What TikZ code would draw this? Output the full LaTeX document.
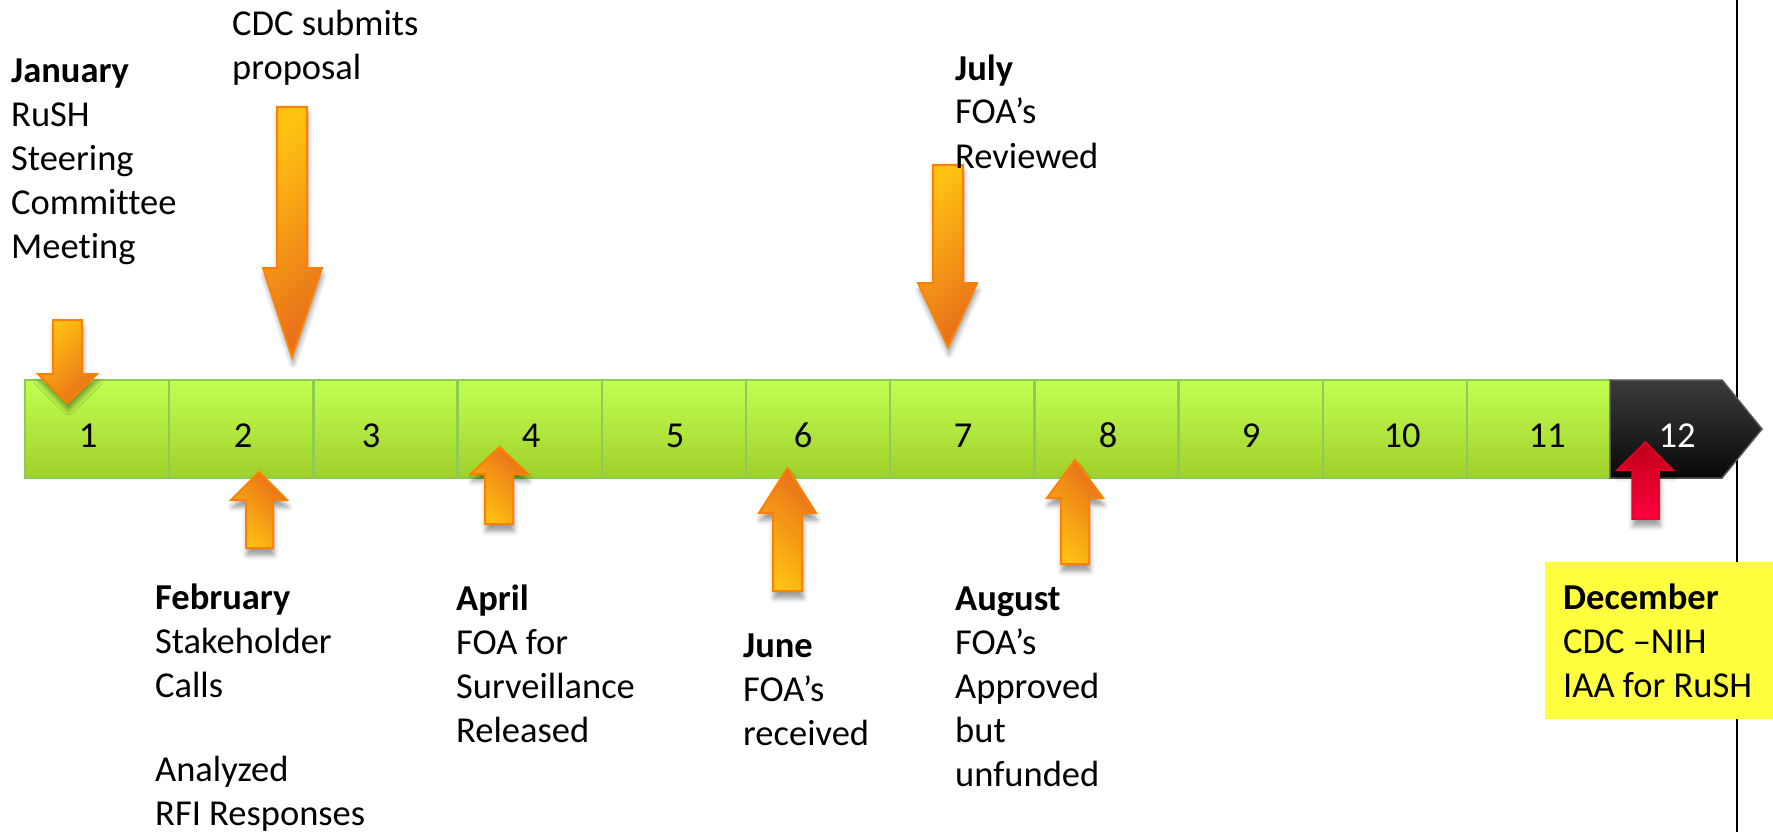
\documentclass[tikz,border=0pt]{standalone}
\usepackage{fontspec}
\setmainfont{Carlito}[Ligatures=NoCommon]
\usetikzlibrary{shadows.blur}
\definecolor{gTop}{RGB}{194,255,82}
\definecolor{gBot}{RGB}{160,208,42}
\definecolor{gEdge}{RGB}{140,204,84}
\definecolor{oYel}{RGB}{255,194,18}
\definecolor{oOra}{RGB}{232,112,26}
\definecolor{oEdge}{RGB}{255,128,0}
\definecolor{rTop}{RGB}{190,0,20}
\definecolor{rBot}{RGB}{255,0,64}
\definecolor{rEdge}{RGB}{230,0,40}
\definecolor{kTop}{RGB}{60,60,60}
\definecolor{kBot}{RGB}{8,8,8}
\definecolor{kEdge}{RGB}{85,85,85}
\definecolor{hiYel}{RGB}{255,255,64}
\begin{document}
\begin{tikzpicture}[x=1pt,y=-1pt,
  seg/.style={draw=gEdge, line width=2.5pt, top color=gTop, bottom color=gBot,
    minimum width=144.2pt, minimum height=98pt, inner sep=0pt, outer sep=0pt},
  num/.style={font=\fontsize{36.5}{40}\selectfont, anchor=base, inner sep=0pt},
  txt/.style={font=\fontsize{36.5}{44}\selectfont, align=left, anchor=base west, inner sep=0pt},
  arrsh/.style={blur shadow={shadow xshift=1pt, shadow yshift=-7pt, shadow blur radius=5pt, shadow opacity=40}},
  downarr/.style={draw=oEdge, line width=2pt, top color=oYel, bottom color=oOra, shading angle=45, arrsh},
  uparr/.style={draw=oEdge, line width=2pt, top color=oOra, bottom color=oYel, shading angle=-45, arrsh},
  redarr/.style={draw=rEdge, line width=1.5pt, top color=rTop, bottom color=rBot, arrsh},
  blackseg/.style={draw=kEdge, line width=1.5pt, top color=kTop, bottom color=kBot},
  vline/.style={line width=2.2pt, black}
]
\useasboundingbox (0,0) rectangle (1773,832);
% vertical line
\coordinate (vtop) at (1737,0);
\coordinate (vbot) at (1737,832);
\draw[vline] (vtop) -- (vbot);
% yellow box
\node[fill=hiYel, anchor=north west, minimum width=228pt, minimum height=157pt, inner sep=0pt] (ybox) at (1545,562) {};
% green segments
\foreach \i in {1,...,11}
  \node[seg] (s\i) at ({25+144.2*(\i-0.5)},429) {};
% black final segment
\draw[blackseg] (1610,380) -- (1722,380) -- (1762,429) -- (1722,478) -- (1610,478) -- cycle;
% numbers
\foreach \i/\x in {1/88,2/243,3/371,4/531,5/675,6/803,7/963,8/1108,9/1251,10/1402,11/1547}
  \node[num] (n\i) at (\x,447) {\i};
\node[num, text=white] (n12) at (1677,447) {12};
% down arrows
\draw[downarr] (53,320) -- (82,320) -- (82,374) -- (97,374) -- (67.5,403) -- (38,374) -- (53,374) -- cycle;
\draw[downarr] (277,107) -- (307,107) -- (307,268) -- (322,268) -- (292,357) -- (263,268) -- (277,268) -- cycle;
\draw[downarr] (933,165) -- (963,165) -- (963,283) -- (977,283) -- (948,347) -- (918,283) -- (933,283) -- cycle;
% up arrows
\draw[uparr] (246,548) -- (273,548) -- (273,500) -- (287,500) -- (259,472) -- (231,500) -- (246,500) -- cycle;
\draw[uparr] (485,524) -- (513,524) -- (513,474) -- (528,474) -- (499.5,447) -- (471,474) -- (485,474) -- cycle;
\draw[uparr] (773,591) -- (802,591) -- (802,513) -- (816,513) -- (787.5,468) -- (759,513) -- (773,513) -- cycle;
\draw[uparr] (1061,564) -- (1089,564) -- (1089,498) -- (1103,498) -- (1075,460) -- (1047,498) -- (1061,498) -- cycle;
\draw[redarr] (1632,519) -- (1659,519) -- (1659,470) -- (1673,470) -- (1645.5,442) -- (1617,470) -- (1632,470) -- cycle;
% texts (anchored at the baseline of the last line)
\node[txt] (jan) at (11,258) {\textbf{January}\\RuSH\\Steering\\Committee\\Meeting};
\node[txt] (cdc) at (232,80) {CDC submits\\proposal};
\node[txt] (jul) at (955,168) {\textbf{July}\\FOA’s\\Reviewed};
\node[txt] (feb) at (155,825) {\textbf{February}\\Stakeholder\\Calls\\[40pt]Analyzed\\RFI Responses};
\node[txt] (apr) at (456,742) {\textbf{April}\\FOA for\\Surveillance\\Released};
\node[txt] (jun) at (743,745) {\textbf{June}\\FOA’s\\received};
\node[txt] (aug) at (955,786) {\textbf{August}\\FOA’s\\Approved\\but\\unfunded};
\node[txt] (dec) at (1563,697) {\textbf{December}\\CDC –NIH\\IAA for RuSH};
\end{tikzpicture}
\end{document}
